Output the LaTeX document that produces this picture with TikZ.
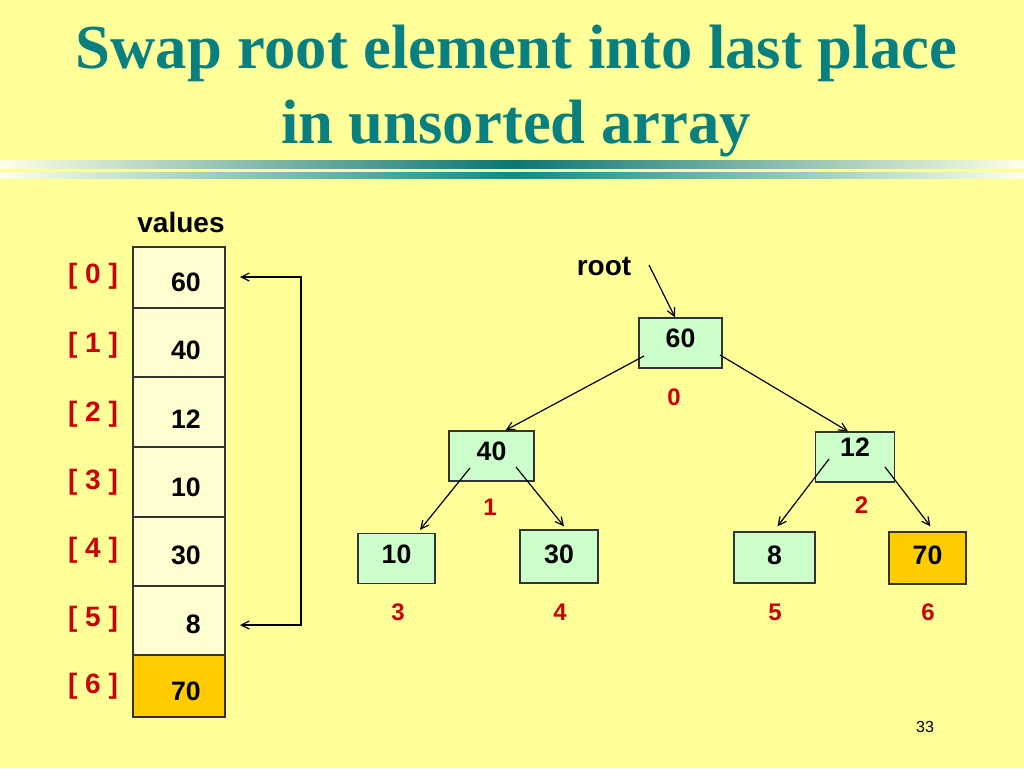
\documentclass[tikz,border=0pt]{standalone}
\usepackage{fontspec}
\setmainfont{Liberation Serif}
\setsansfont{Liberation Sans}
\usetikzlibrary{calc,arrows.meta}

\definecolor{slidebg}{HTML}{FFFF99}
\definecolor{titleteal}{HTML}{0A7F7F}
\definecolor{barteal}{HTML}{0E8A86}
\definecolor{barpale}{HTML}{FFFFE6}
\definecolor{cellfill}{HTML}{FFFFD2}
\definecolor{boxgreen}{HTML}{CCFFCC}
\definecolor{hot}{HTML}{FFCC00}
\definecolor{idxred}{HTML}{CC0000}

\tikzset{
  cell/.style={draw=black!80,line width=1pt,fill=cellfill,minimum width=69pt,inner sep=0pt},
  tbox/.style={draw=black!80,line width=1pt,fill=boxgreen,minimum height=37.5pt,inner sep=0pt,
    font=\sffamily\bfseries\fontsize{20}{24}\selectfont,text height=14.3pt,text depth=6pt},
  val/.style={font=\sffamily\bfseries\fontsize{20}{24}\selectfont,inner sep=0pt,anchor=east},
  idx/.style={font=\sffamily\bfseries\fontsize{21}{25}\selectfont,text=idxred,inner sep=0pt},
  tidx/.style={font=\sffamily\bfseries\fontsize{18}{22}\selectfont,text=idxred,inner sep=0pt},
  arr/.style={-{Straight Barb[length=6pt,width=6pt]},line width=0.9pt}
}

\begin{document}
\begin{tikzpicture}[x=0.75pt,y=-0.75pt]
\fill[slidebg](0,0) rectangle (1024,768);
\useasboundingbox (0,0) rectangle (1024,768);
% title
\node[anchor=base,text=titleteal,font=\bfseries\fontsize{47}{56}\selectfont,inner sep=0pt] (title1) at (516.5,68){Swap root element into last place};
\node[anchor=base,text=titleteal,font=\bfseries\fontsize{47}{56}\selectfont,inner sep=0pt] (title2) at (516,143){in unsorted array};
\shade[left color=barpale,right color=barpale,middle color=barteal!85!black](0,160) rectangle (1024,168);
\shade[left color=barpale,right color=barpale,middle color=barteal](0,172) rectangle (1024,178);
% array
\node[font=\sffamily\bfseries\fontsize{21}{25}\selectfont,inner sep=0pt] (values) at (181,222){values};
\node[cell,minimum height=45.75pt] (c0) at (179,277.5){};
\node[cell,minimum height=51.75pt] (c1) at (179,342.5){};
\node[cell,minimum height=52.5pt] (c2) at (179,412){};
\node[cell,minimum height=52.5pt] (c3) at (179,482){};
\node[cell,minimum height=51.75pt] (c4) at (179,551.5){};
\node[cell,minimum height=51.75pt] (c5) at (179,620.5){};
\node[cell,minimum height=46.5pt,fill=hot] (c6) at (179,686){};
\node[val] (v0) at (201,282){60};
\node[val] (v1) at (201,350){40};
\node[val] (v2) at (201,419.5){12};
\node[val] (v3) at (201,487){10};
\node[val] (v4) at (201,555){30};
\node[val] (v5) at (201,624){8};
\node[val] (v6) at (201,691.5){70};
\node[idx] (i0) at (93,276){[ 0 ]};
\node[idx] (i1) at (93,345){[ 1 ]};
\node[idx] (i2) at (93,414.5){[ 2 ]};
\node[idx] (i3) at (93,482){[ 3 ]};
\node[idx] (i4) at (93,550){[ 4 ]};
\node[idx] (i5) at (93,619){[ 5 ]};
\node[idx] (i6) at (93,686.5){[ 6 ]};
\coordinate (a0) at (240,277);
\coordinate (a5) at (240,625);
\coordinate (swap) at (301,450);
\draw[arr,{Straight Barb[length=6pt,width=6pt]}-{Straight Barb[length=6pt,width=6pt]}] (a0) -| (swap) |- (a5);
% tree
\node[font=\sffamily\bfseries\fontsize{21}{25}\selectfont,inner sep=0pt] (root) at (604,266){root};
\coordinate (rootarr) at (649,265);
\node[tbox,minimum width=62.25pt,text depth=7.5pt] (n60) at (680.5,343){60};
\node[tbox,minimum width=63.75pt,text depth=7.5pt] (n40) at (491.5,456){40};
\node[tbox,minimum width=58.9pt,text depth=15pt] (n12) at (855,457){12};
\node[tbox,minimum width=57.75pt,text depth=7pt] (n10) at (396.5,558.5){10};
\node[tbox,minimum width=58.5pt,minimum height=39.75pt,text depth=4pt] (n30) at (559,556.5){30};
\node[tbox,minimum width=60.75pt,minimum height=38.25pt,text depth=4pt] (n8) at (774.5,557.5){8};
\node[tbox,minimum width=57.75pt,minimum height=39pt,text depth=4.5pt,fill=hot] (n70) at (927.5,558){70};
\node[tidx] (t0) at (674,397){0};
\node[tidx] (t1) at (490,507){1};
\node[tidx] (t2) at (861.5,505){2};
\node[tidx] (t3) at (398,612){3};
\node[tidx] (t4) at (560,612){4};
\node[tidx] (t5) at (775,612){5};
\node[tidx] (t6) at (928,612){6};
\draw[arr] (rootarr) -- ($(n60.north)+(-5.5,0)$);
\draw[arr] ($(n60)+(-36.5,13)$) -- ($(n40.north)+(14,0)$);
\draw[arr] ($(n60)+(39.5,12)$) -- ($(n12.north)+(-7,0)$);
\draw[arr] ($(n40)+(-21.5,12)$) -- ($(n10.north)+(23.5,-3)$);
\draw[arr] ($(n40)+(24.5,11)$) -- ($(n30.north)+(5,-3)$);
\draw[arr] ($(n12)+(-26,2)$) -- ($(n8.north)+(3,-5)$);
\draw[arr] ($(n12)+(30,10)$) -- ($(n70.north)+(3,-5)$);
% page number
\node[font=\sffamily\fontsize{12}{14}\selectfont,inner sep=0pt] (pagenum) at (925,727){33};
\end{tikzpicture}
\end{document}
